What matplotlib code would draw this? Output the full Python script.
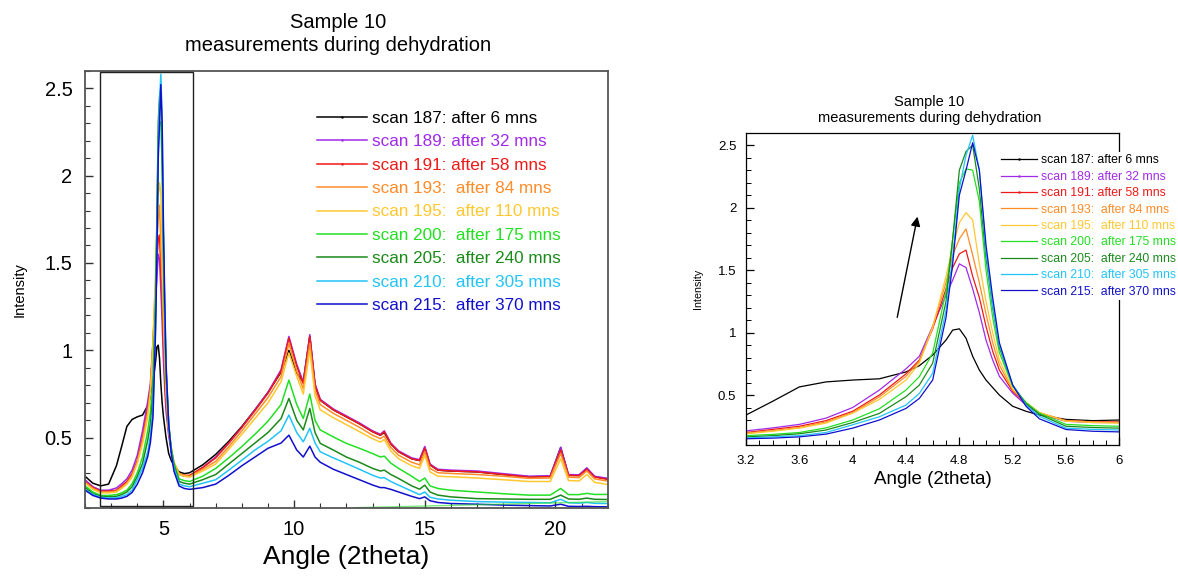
import matplotlib.pyplot as plt
from matplotlib.patches import Rectangle
from matplotlib.ticker import MultipleLocator, FixedLocator, FuncFormatter

plt.rcParams['font.family'] = ['Liberation Sans', 'DejaVu Sans']

# angle grid (2theta)
angle = [2.0, 2.3, 2.6, 2.9, 3.2, 3.4, 3.6, 3.8, 4.0, 4.2, 4.4, 4.5, 4.6, 4.7, 4.75,
         4.8, 4.85, 4.9, 4.95, 5.0, 5.05, 5.1, 5.2, 5.3, 5.4, 5.6, 5.8, 6.0, 6.5, 7.0,
         7.5, 8.0, 8.5, 9.0, 9.5, 9.8, 10.1, 10.35, 10.6, 10.8, 11.0, 11.5, 12.0, 12.5,
         13.0, 13.3, 13.45, 13.7, 14.0, 14.5, 14.8, 15.0, 15.2, 15.5, 16.0, 17.0, 18.0,
         19.0, 19.8, 20.2, 20.5, 20.9, 21.2, 21.5, 22.0]

scan187 = [0.28, 0.24, 0.225, 0.235, 0.34, 0.45, 0.565, 0.605, 0.62, 0.63, 0.685, 0.735, 0.82, 0.94, 1.02,
           1.03, 0.955, 0.81, 0.70, 0.62, 0.56, 0.50, 0.41, 0.37, 0.34, 0.305, 0.295, 0.30, 0.345, 0.405,
           0.48, 0.565, 0.66, 0.76, 0.875, 1.00, 0.87, 0.82, 1.08, 0.80, 0.715, 0.66, 0.62, 0.58,
           0.535, 0.515, 0.53, 0.465, 0.42, 0.38, 0.37, 0.445, 0.345, 0.315, 0.31, 0.305, 0.29,
           0.277, 0.28, 0.445, 0.285, 0.285, 0.325, 0.277, 0.265]
scan189 = [0.26, 0.22, 0.20, 0.20, 0.213, 0.237, 0.265, 0.315, 0.40, 0.54, 0.71, 0.81, 1.05, 1.30, 1.42,
           1.55, 1.52, 1.35, 1.16, 0.94, 0.78, 0.65, 0.515, 0.42, 0.35, 0.29, 0.28, 0.28, 0.33, 0.39,
           0.47, 0.56, 0.66, 0.76, 0.89, 1.08, 0.92, 0.82, 1.09, 0.81, 0.72, 0.665, 0.625, 0.585,
           0.54, 0.52, 0.54, 0.47, 0.425, 0.385, 0.375, 0.45, 0.35, 0.32, 0.315, 0.31, 0.295,
           0.28, 0.283, 0.445, 0.29, 0.288, 0.328, 0.28, 0.268]
scan191 = [0.25, 0.215, 0.195, 0.195, 0.20, 0.225, 0.25, 0.295, 0.37, 0.50, 0.67, 0.78, 1.03, 1.35, 1.52,
           1.63, 1.66, 1.45, 1.28, 1.05, 0.85, 0.70, 0.53, 0.43, 0.355, 0.295, 0.285, 0.285, 0.33, 0.385,
           0.47, 0.56, 0.655, 0.755, 0.88, 1.07, 0.91, 0.81, 1.08, 0.80, 0.715, 0.66, 0.62, 0.58,
           0.535, 0.515, 0.535, 0.465, 0.42, 0.38, 0.37, 0.44, 0.345, 0.315, 0.31, 0.305, 0.29,
           0.275, 0.278, 0.43, 0.285, 0.283, 0.32, 0.275, 0.262]
scan193 = [0.245, 0.21, 0.19, 0.19, 0.195, 0.215, 0.24, 0.285, 0.36, 0.485, 0.65, 0.77, 1.05, 1.40, 1.62,
           1.75, 1.83, 1.62, 1.40, 1.15, 0.92, 0.74, 0.54, 0.44, 0.36, 0.295, 0.285, 0.28, 0.32, 0.365,
           0.45, 0.54, 0.635, 0.73, 0.85, 1.04, 0.88, 0.78, 1.04, 0.77, 0.69, 0.64, 0.60, 0.56,
           0.515, 0.495, 0.51, 0.445, 0.40, 0.36, 0.345, 0.42, 0.325, 0.30, 0.296, 0.29, 0.28,
           0.268, 0.27, 0.41, 0.275, 0.272, 0.31, 0.265, 0.252]
scan195 = [0.24, 0.205, 0.185, 0.185, 0.19, 0.21, 0.235, 0.275, 0.355, 0.465, 0.62, 0.755, 1.04, 1.45, 1.68,
           1.88, 1.96, 1.90, 1.55, 1.25, 1.00, 0.78, 0.55, 0.44, 0.36, 0.29, 0.28, 0.275, 0.31, 0.35,
           0.435, 0.52, 0.61, 0.70, 0.82, 0.985, 0.85, 0.75, 1.00, 0.74, 0.66, 0.615, 0.575, 0.535,
           0.495, 0.475, 0.49, 0.425, 0.38, 0.34, 0.325, 0.40, 0.305, 0.28, 0.277, 0.27, 0.26,
           0.25, 0.25, 0.38, 0.255, 0.253, 0.29, 0.245, 0.233]
scan200 = [0.225, 0.19, 0.17, 0.17, 0.175, 0.185, 0.20, 0.237, 0.30, 0.39, 0.54, 0.647, 0.835, 1.33, 1.75,
           2.20, 2.31, 2.30, 2.05, 1.50, 1.12, 0.84, 0.57, 0.44, 0.355, 0.265, 0.255, 0.25, 0.28, 0.325,
           0.385, 0.45, 0.52, 0.595, 0.69, 0.83, 0.69, 0.61, 0.75, 0.60, 0.545, 0.505, 0.468, 0.44,
           0.41, 0.39, 0.395, 0.355, 0.325, 0.28, 0.25, 0.27, 0.225, 0.21, 0.20, 0.19, 0.18,
           0.172, 0.172, 0.21, 0.175, 0.175, 0.182, 0.176, 0.176]
scan205 = [0.215, 0.18, 0.165, 0.162, 0.165, 0.175, 0.19, 0.22, 0.28, 0.353, 0.487, 0.58, 0.755, 1.25, 1.75,
           2.30, 2.45, 2.50, 2.15, 1.60, 1.20, 0.88, 0.58, 0.43, 0.345, 0.25, 0.24, 0.235, 0.26, 0.29,
           0.35, 0.41, 0.47, 0.53, 0.61, 0.725, 0.60, 0.545, 0.668, 0.53, 0.468, 0.43, 0.39, 0.36,
           0.325, 0.31, 0.315, 0.29, 0.267, 0.225, 0.206, 0.229, 0.19, 0.172, 0.162, 0.152, 0.15,
           0.148, 0.148, 0.172, 0.15, 0.148, 0.155, 0.148, 0.147]
scan210 = [0.205, 0.175, 0.16, 0.155, 0.157, 0.165, 0.175, 0.20, 0.262, 0.326, 0.42, 0.513, 0.674, 1.18, 1.60,
           2.15, 2.42, 2.58, 2.30, 1.65, 1.22, 0.90, 0.58, 0.42, 0.33, 0.235, 0.225, 0.22, 0.24, 0.26,
           0.315, 0.372, 0.43, 0.48, 0.54, 0.63, 0.53, 0.477, 0.554, 0.47, 0.42, 0.385, 0.353, 0.32,
           0.286, 0.27, 0.272, 0.25, 0.229, 0.195, 0.175, 0.19, 0.16, 0.15, 0.143, 0.135, 0.132,
           0.13, 0.128, 0.148, 0.128, 0.126, 0.13, 0.125, 0.124]
scan215 = [0.20, 0.17, 0.155, 0.15, 0.15, 0.155, 0.165, 0.187, 0.235, 0.30, 0.393, 0.473, 0.62, 1.12, 1.55,
           2.10, 2.30, 2.52, 2.30, 1.70, 1.28, 0.92, 0.58, 0.41, 0.31, 0.224, 0.21, 0.205, 0.215, 0.235,
           0.285, 0.34, 0.39, 0.44, 0.47, 0.515, 0.43, 0.39, 0.452, 0.39, 0.36, 0.32, 0.29, 0.26,
           0.23, 0.215, 0.215, 0.205, 0.19, 0.165, 0.152, 0.162, 0.14, 0.13, 0.124, 0.12, 0.115,
           0.112, 0.11, 0.12, 0.108, 0.107, 0.108, 0.106, 0.105]

# stray segment along the bottom of the wide plot
stray_x = [12.3, 22.0]
stray_y = [0.10, 0.135]

labels = ['scan 187: after 6 mns', 'scan 189: after 32 mns', 'scan 191: after 58 mns',
          'scan 193:  after 84 mns', 'scan 195:  after 110 mns', 'scan 200:  after 175 mns',
          'scan 205:  after 240 mns', 'scan 210:  after 305 mns', 'scan 215:  after 370 mns']
colors = ['#000000', '#A02AE8', '#F01818', '#FF8C28', '#FFC830', '#22E022',
          '#1A8A1A', '#22C4F8', '#1010CC']
series = [scan187, scan189, scan191, scan193, scan195, scan200, scan205, scan210, scan215]
dotted = [True, True, True, False, False, False, False, False, False]

zoom_box = [2.58, 0.11, 6.13, 2.59]   # x0, y0, x1, y1
arrow_tail = (4.33, 1.10)
arrow_head = (4.49, 1.95)
right_xticks = [3.2, 3.6, 4.0, 4.4, 4.8, 5.2, 5.6, 6.0]

fmt = FuncFormatter(lambda v, p: '%g' % round(v, 3))

fig = plt.figure(figsize=(11.78, 5.78), dpi=100)

# ---- wide view ----
ax1 = fig.add_axes([0.0722, 0.1216, 0.4437, 0.7561])
for y, c, lab, d in zip(series, colors, labels, dotted):
    ax1.plot(angle, y, color=c, lw=1.1, label=lab,
             marker='.' if d else None, ms=1.5, markevery=[])
ax1.plot(stray_x, stray_y, color='#22E022', lw=1.0, alpha=0.6)
ax1.add_patch(Rectangle((zoom_box[0], zoom_box[1]), zoom_box[2] - zoom_box[0],
                        zoom_box[3] - zoom_box[1], fill=False, ec='#222222', lw=1.0, zorder=5))
ax1.set_xlim(2, 22)
ax1.set_ylim(0.1, 2.6)
ax1.xaxis.set_major_locator(MultipleLocator(5))
ax1.xaxis.set_minor_locator(MultipleLocator(1))
ax1.yaxis.set_major_locator(MultipleLocator(0.5))
ax1.yaxis.set_minor_locator(MultipleLocator(0.1))
ax1.xaxis.set_major_formatter(fmt)
ax1.yaxis.set_major_formatter(fmt)
ax1.tick_params(which='both', direction='in', top=False, right=False, labelsize=14.5, color='#333333')
ax1.tick_params(which='major', length=6, width=1.0, pad=9)
ax1.tick_params(which='minor', length=3.5, width=0.8)
for s in ax1.spines.values():
    s.set_color('#555555')
    s.set_linewidth(1.3)
ax1.set_xlabel('Angle (2theta)', fontsize=19, labelpad=4)
ax1.set_ylabel('Intensity', fontsize=10.5, labelpad=13)
leg1 = ax1.legend(loc='upper left', bbox_to_anchor=(317 / 1178, 1 - 111 / 578),
                  bbox_transform=fig.transFigure, frameon=False, fontsize=12.3,
                  handlelength=2.9, handletextpad=0.33, labelspacing=0.49,
                  borderpad=0, borderaxespad=0, labelcolor='linecolor')
fig.text(0.287, 1 - 34 / 578, 'Sample 10\nmeasurements during dehydration',
         ha='center', va='center', fontsize=14.5, linespacing=1.25)

# ---- zoomed view ----
ax2 = fig.add_axes([0.6333, 0.2301, 0.3169, 0.5403])
for y, c, lab, d in zip(series, colors, labels, dotted):
    ax2.plot(angle, y, color=c, lw=0.9, label=lab,
             marker='.' if d else None, ms=1.5, markevery=[])
ax2.annotate('', xy=arrow_head, xytext=arrow_tail,
             arrowprops=dict(arrowstyle='-|>', color='k', lw=1.0, mutation_scale=14))
ax2.set_xlim(3.2, 6)
ax2.set_ylim(0.1, 2.6)
ax2.xaxis.set_major_locator(FixedLocator(right_xticks))
ax2.xaxis.set_minor_locator(MultipleLocator(0.1))
ax2.yaxis.set_major_locator(MultipleLocator(0.5))
ax2.yaxis.set_minor_locator(MultipleLocator(0.1))
ax2.xaxis.set_major_formatter(fmt)
ax2.yaxis.set_major_formatter(fmt)
ax2.tick_params(which='both', direction='in', top=False, right=False, labelsize=9.5)
ax2.tick_params(which='major', length=6, width=0.9, pad=7)
ax2.tick_params(which='minor', length=3.5, width=0.7)
for s in ax2.spines.values():
    s.set_linewidth(0.9)
ax2.set_xlabel('Angle (2theta)', fontsize=13.5, labelpad=3)
ax2.set_ylabel('Intensity', fontsize=7.7, labelpad=11)
leg2 = ax2.legend(loc='upper left', bbox_to_anchor=(999 / 1178, 1 - 152 / 578),
                  bbox_transform=fig.transFigure, frameon=True, fancybox=False,
                  facecolor='white', edgecolor='none', framealpha=1, fontsize=8.8,
                  handlelength=2.9, handletextpad=0.33, labelspacing=0.36,
                  borderpad=0.2, borderaxespad=0, labelcolor='linecolor')
fig.text(0.789, 1 - 110 / 578, 'Sample 10\nmeasurements during dehydration',
         ha='center', va='center', fontsize=10.5, linespacing=1.1)

fig.savefig('out.png', dpi=100)
